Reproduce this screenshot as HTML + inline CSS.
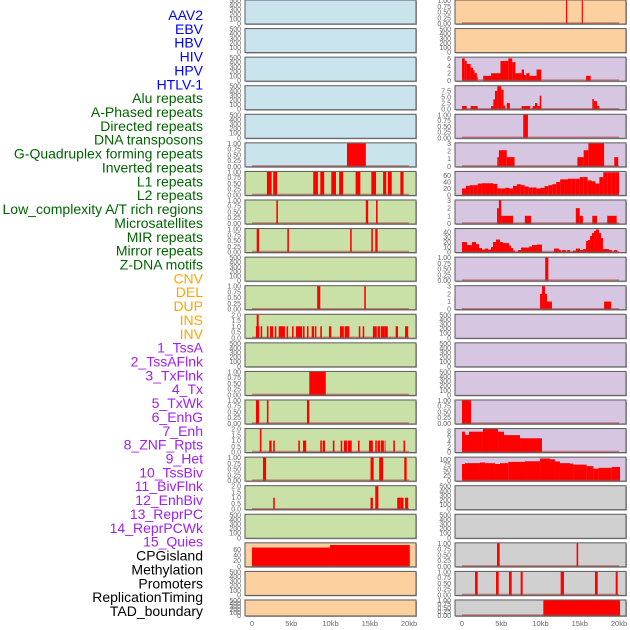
<!DOCTYPE html>
<html><head><meta charset="utf-8"><style>
body{margin:0;background:#fff;width:630px;height:630px;overflow:hidden;font-family:"Liberation Sans",sans-serif}
svg{display:block}
</style></head><body>
<svg id="chart" width="630" height="630" viewBox="0 0 630 630"></svg>
<script>
const labels=["AAV2","EBV","HBV","HIV","HPV","HTLV-1","Alu repeats","A-Phased repeats","Directed repeats","DNA transposons","G-Quadruplex forming repeats","Inverted repeats","L1 repeats","L2 repeats","Low_complexity A/T rich regions","Microsatellites","MIR repeats","Mirror repeats","Z-DNA motifs","CNV","DEL","DUP","INS","INV","1_TssA","2_TssAFlnk","3_TxFlnk","4_Tx","5_TxWk","6_EnhG","7_Enh","8_ZNF_Rpts","9_Het","10_TssBiv","11_BivFlnk","12_EnhBiv","13_ReprPC","14_ReprPCWk","15_Quies","CPGisland","Methylation","Promoters","ReplicationTiming","TAD_boundary"];
const labelColors=["#0000ff","#0000ff","#0000ff","#0000ff","#0000ff","#0000ff","#006400","#006400","#006400","#006400","#006400","#006400","#006400","#006400","#006400","#006400","#006400","#006400","#006400","#ffa500","#ffa500","#ffa500","#ffa500","#ffa500","#a020f0","#a020f0","#a020f0","#a020f0","#a020f0","#a020f0","#a020f0","#a020f0","#a020f0","#a020f0","#a020f0","#a020f0","#a020f0","#a020f0","#a020f0","#000","#000","#000","#000","#000"];
const bgColors=["#c9e4ec","#c9e4ec","#c9e4ec","#c9e4ec","#c9e4ec","#c9e4ec","#c9e1a6","#c9e1a6","#c9e1a6","#c9e1a6","#c9e1a6","#c9e1a6","#c9e1a6","#c9e1a6","#c9e1a6","#c9e1a6","#c9e1a6","#c9e1a6","#c9e1a6","#fdd09f","#fdd09f","#fdd09f","#fdd09f","#fdd09f","#d6c6e1","#d6c6e1","#d6c6e1","#d6c6e1","#d6c6e1","#d6c6e1","#d6c6e1","#d6c6e1","#d6c6e1","#d6c6e1","#d6c6e1","#d6c6e1","#d6c6e1","#d6c6e1","#d6c6e1","#d0d0d0","#d0d0d0","#d0d0d0","#d0d0d0","#d0d0d0"];
const bars5=[[12.1,14.5,1]];
const bars6=[[1.9,2.5,1],[2.7,3.2,1],[7.8,8.4,1],[8.7,9.2,1],[10.1,10.7,1],[11.1,11.6,1],[13.2,13.8,1],[15.2,15.8,1],[16.7,17.1,1],[17.3,17.8,1],[18.9,19.3,1]];
const bars7=[[3.1,3.3,1],[14.5,14.8,1],[15.8,16.0,1]];
const bars8=[[0.6,0.9,1],[4.5,4.7,1],[12.5,12.7,1],[15.2,15.4,1],[15.7,16.0,1]];
const bars10=[[8.3,8.7,1],[14.3,14.5,1]];
const bars11=[[0.5,0.93,1],[0.6,0.85,2],[1.1,1.3,1],[1.9,2.1,1],[2.3,2.7,1],[2.9,3.1,1],[3.4,4.2,1],[4.4,4.6,1],[5.1,5.3,1],[5.6,6.4,1],[6.5,6.7,1],[7.0,7.2,1],[7.6,7.9,1],[8.0,8.2,1],[8.7,8.9,1],[9.8,10.1,1],[11.2,11.7,1],[11.8,12.4,1],[13.6,13.8,1],[14.1,14.3,1],[15.4,15.9,1],[16.0,16.3,1],[16.4,16.9,1],[16.9,17.3,1],[18.3,18.6,1],[19.5,19.9,1]];
const bars13=[[7.3,9.4,1]];
const bars14=[[0.5,0.9,1],[1.9,2.1,1],[7.0,7.3,1]];
const bars15=[[1.0,1.2,2],[2.2,2.5,1],[2.7,2.9,1],[5.9,6.1,1],[6.5,6.9,1],[8.7,8.9,1],[9.0,9.3,1],[10.3,10.5,1],[11.3,11.5,1],[11.7,12.1,1],[12.2,12.7,1],[13.5,13.7,1],[14.9,15.4,1],[15.7,15.9,1],[16.0,16.3,1],[16.4,16.8,1],[16.9,17.0,1],[18.0,18.2,1],[19.3,19.5,1]];
const bars16=[[1.4,1.8,1],[15.1,15.5,1],[16.2,16.7,1],[19.4,19.7,1]];
const bars17=[[2.7,2.9,1],[15.1,15.4,1],[15.7,16.1,2],[18.5,18.9,1],[18.9,19.3,1],[19.5,19.9,1]];
const bars19=[[0,9.94,67],[9.94,20.1,76]];
const bars22=[[13.25,13.4,1],[15.25,15.4,1]];
const bars24=[[0,0.35,6],[0.35,0.6,5.3],[0.6,1.1,4.5],[1.1,1.4,3.5],[1.4,1.6,2.8],[1.6,1.9,2],[1.9,2.0,1],[2.7,3.7,1.3],[3.7,4.9,2],[4.9,5.9,5.3],[5.9,6.4,6],[6.4,6.8,5],[6.8,7.6,2],[7.6,7.9,3],[7.9,8.2,1.5],[8.2,8.6,2],[8.6,9.5,1.3],[9.5,10.1,3],[15.8,16.4,1.3]];
const bars25=[[0,0.6,1.3],[1.1,2.0,1.3],[3.7,3.99,1.3],[3.99,4.2,4],[4.2,4.5,7.5],[4.5,5.0,9.4],[5.0,5.3,8],[5.3,5.5,1.5],[5.7,6.1,2.5],[7.6,8.7,1.3],[9.0,9.3,1.3],[9.3,9.6,2.5],[9.6,9.9,1.3],[9.9,10.1,5.5],[16.6,16.8,4.2],[16.8,17.2,3.3],[17.2,17.5,1.3]];
const bars26=[[7.8,8.4,1]];
const bars27=[[4.5,4.7,1.2],[4.7,5.7,2.1],[5.7,6.7,1.2],[14.7,15.5,1.2],[15.5,16.1,2.1],[16.1,18.1,3],[19.4,19.9,1.2]];
const cov28=[20,28,30,30,35,36,36,36,34,20,20,22,20,28,33,30,26,23,23,20,22,27,30,33,40,48,48,50,50,50,55,55,45,42,35,55,70,70,70,70];
const bars29=[[4.46,4.7,2],[4.7,5.0,3],[5.0,6.5,1],[8.0,8.8,1],[14.5,15.0,2],[15.0,15.4,1],[16.6,17.2,1],[18.5,19.7,1]];
const bars30=[[0,0.64,20],[0.64,1.27,14],[1.27,1.78,20],[1.78,2.17,16],[2.17,2.55,8],[2.55,2.93,5],[2.93,3.31,7],[3.31,3.69,5],[3.69,3.95,10],[3.95,4.33,20],[4.33,4.84,25],[4.84,5.22,20],[5.22,5.99,18],[5.99,6.24,13],[6.24,6.5,8],[6.5,6.75,3],[7.13,7.52,4],[7.52,8.54,9],[8.54,8.92,11],[8.92,9.55,14],[9.55,10.19,15],[11.72,12.36,7],[12.36,12.61,4],[12.74,13.25,4],[13.38,13.76,4],[14.14,14.52,3],[14.52,15.03,7],[15.03,15.41,4],[15.41,15.8,6],[15.8,16.05,22],[16.05,16.31,24],[16.31,16.56,32],[16.56,16.82,38],[16.82,17.07,42],[17.07,17.45,45],[17.45,17.71,38],[17.71,17.96,28],[17.96,18.73,6],[18.73,19.11,4],[19.36,19.75,4]];
const bars31=[[10.6,11.0,1]];
const bars32=[[9.94,10.2,2],[10.2,10.57,3],[10.57,10.83,2],[10.83,11.46,1],[18.1,19.0,1]];
const bars36=[[0,1.15,1]];
const bars37=[[0,0.38,7.7],[0.38,0.89,6.5],[0.89,2.67,7.7],[2.67,4.59,8.7],[4.59,5.35,7.7],[5.35,7.39,6.4],[7.39,10.19,5.2]];
const bars38=[[0,0.38,78],[0.38,2.29,82],[2.29,2.93,85],[2.93,4.2,82],[4.2,4.84,78],[4.84,5.9,82],[5.9,8.03,88],[8.03,9.94,91],[9.94,11.21,104],[11.21,11.85,100],[11.85,12.48,90],[12.48,13.76,82],[13.76,14.18,80],[14.18,15.88,75],[15.88,16.73,68],[16.73,17.37,56],[17.37,19.07,60],[19.07,20.13,64]];
const bars41=[[4.46,4.8,1],[14.6,14.8,1]];
const bars42=[[1.66,2.0,1],[4.33,4.67,1],[5.99,6.33,1],[7.47,7.73,1],[12.57,12.99,1],[16.94,17.29,1],[19.58,19.83,1]];
const bars43=[[10.36,20.13,1]];
const tickEmpty=[0,100,200,300,400,500];
const tickUnit=[0,0.25,0.5,0.75,1];
const tickTwo=[0,0.5,1,1.5,2];
const tickThree=[0,1,2,3];
const tickSix=[0,2,4,6];
const tickNine=[0,2.5,5,7.5];
const tickSixty=[0,20,40,60];
const tickForty=[0,10,20,30,40];
const tickEight=[0,2,4,6,8];
const tickHundred=[0,25,50,75,100];
const xTicks=[0,5,10,15,20];
const xTickLabels=["0","5kb","10kb","15kb","20kb"];

const cov28Bars=cov28.map((v,i)=>[i*0.5,i*0.5+0.5,v]);
const E={bars:[],ymax:500,ticks:tickEmpty,dec:0};
function P(b,ymax,ticks,dec){return {bars:b,ymax:ymax,ticks:ticks,dec:dec};}
const U=b=>P(b,1,tickUnit,2);
const panels=[E,E,E,E,E,U(bars5),U(bars6),U(bars7),U(bars8),E,U(bars10),P(bars11,2,tickTwo,1),E,U(bars13),U(bars14),P(bars15,2,tickTwo,1),U(bars16),P(bars17,2,tickTwo,1),E,P(bars19,82,tickSixty,0),E,E,
U(bars22),E,P(bars24,6.2,tickSix,0),P(bars25,9.4,tickNine,1),U(bars26),P(bars27,3,tickThree,0),P(cov28Bars,71,tickSixty,0),P(bars29,3,tickThree,0),P(bars30,46,tickForty,0),U(bars31),P(bars32,3,tickThree,0),E,E,E,U(bars36),P(bars37,8.7,tickEight,0),P(bars38,108,tickHundred,0),E,E,U(bars41),U(bars42),U(bars43)];

const NS="http://www.w3.org/2000/svg";
const svg=document.getElementById('chart');
function mk(tag,attrs,parent){const e=document.createElementNS(NS,tag);for(const k in attrs)e.setAttribute(k,attrs[k]);(parent||svg).appendChild(e);return e;}

labels.forEach((t,i)=>{
  const e=mk('text',{x:203,y:15+i*13.86+5,'text-anchor':'end','font-size':14,fill:labelColors[i]});
  e.textContent=t;
  
  
});

const colLeft=[245,455];
const PW=171;
panels.forEach((p,idx)=>{
  const col=idx<22?0:1, row=idx%22;
  const top=row*28.57, h=row===21?16:24;
  const L=colLeft[col];
  const x0=L+7, kbScale=7.85;
  const xs=kb=>x0+kb*kbScale;
  const ys=v=>top+h-0.5-(v/p.ymax)*(h-1);
  const g=mk('g',{});
  
  
  mk('rect',{x:L+1,y:top+1,width:PW,height:h,fill:'#aaa'},g);
  mk('rect',{x:L,y:top,width:PW,height:h,fill:bgColors[idx],stroke:'#5a5a5a','stroke-width':1},g);
  p.bars.forEach(b=>{
    const r=mk('rect',{x:xs(b[0]),y:ys(b[2]),width:Math.max(0.8,xs(b[1])-xs(b[0])),height:ys(0)-ys(b[2]),fill:'#ff0000'},g);
    
    
  });
  if(p.bars.length) mk('line',{x1:xs(0),x2:xs(20),y1:top+h-1,y2:top+h-1,stroke:'rgba(170,60,60,0.55)','stroke-width':1.5},g);
  p.ticks.forEach(t=>{
    const e=mk('text',{x:L-4,y:ys(t)+2.5,'text-anchor':'end','font-size':7,fill:'#666'},g);
    e.textContent=t.toFixed(p.dec);
  });
});
[0,1].forEach(col=>{
  xTicks.forEach((t,i)=>{
    const e=mk('text',{x:colLeft[col]+7+t*7.85,y:626,'text-anchor':'middle','font-size':7.5,fill:'#666'});
    e.textContent=xTickLabels[i];
    
    
  });
});
</script>
</body></html>
